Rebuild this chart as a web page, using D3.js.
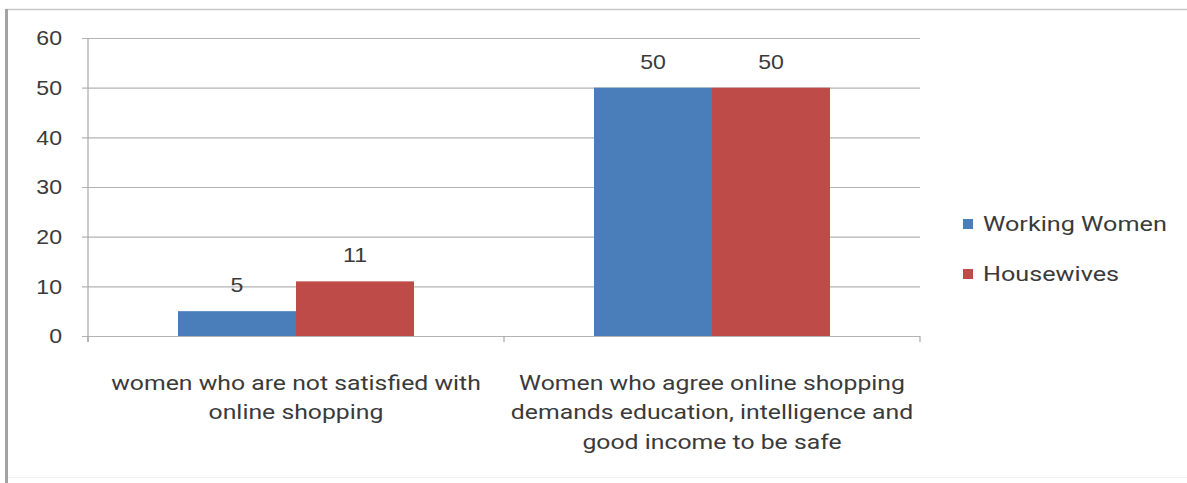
<!DOCTYPE html>
<html>
<head>
<meta charset="utf-8">
<script src="https://cdn.jsdelivr.net/npm/d3@7"></script>
<style>
  html, body { margin: 0; padding: 0; background: #fff; }
  svg { display: block; }
  text { font-family: "Roboto", "Liberation Sans", sans-serif; fill: #3a3a3a; }
  .num { font-family: "Liberation Sans", sans-serif; }
</style>
</head>
<body>
<svg id="chart" width="1187" height="483"></svg>
<script>
// Survey responses by group
const categories = [
  ["women who are not satisfied with", "online shopping"],
  ["Women who agree online shopping", "demands education, intelligence and", "good income to be safe"]
];
const seriesNames = ["Working Women", "Housewives"];
const workingWomen = [5, 50];
const housewives = [11, 50];
const yTicks = [0, 10, 20, 30, 40, 50, 60];
const colors = ["#4a7ebb", "#be4b48"];

const svg = d3.select("#chart");
const W = 1187, H = 483;

// widen glyphs slightly for a broader text face
function widen(sel, k) {
  sel.each(function() {
    const len = this.getComputedTextLength();
    d3.select(this).attr("textLength", len * k).attr("lengthAdjust", "spacingAndGlyphs");
  });
}

// outer frame
svg.append("rect").attr("x", 0).attr("y", 0).attr("width", W).attr("height", H).attr("fill", "#fff");
svg.append("line").attr("x1", 6).attr("x2", W).attr("y1", 9.5).attr("y2", 9.5)
  .attr("stroke", "#c8c8c8").attr("stroke-width", 1.5);
svg.append("line").attr("x1", 6.5).attr("x2", 6.5).attr("y1", 9).attr("y2", H)
  .attr("stroke", "#a3a3a3").attr("stroke-width", 3);
svg.append("line").attr("x1", 8).attr("x2", W).attr("y1", 477.5).attr("y2", 477.5)
  .attr("stroke", "#f0f0f0").attr("stroke-width", 1);

const plot = { left: 88, right: 920, top: 38, bottom: 336 };

const y = d3.scaleLinear().domain([0, 60]).range([plot.bottom, plot.top]);
const x0 = d3.scaleBand().domain(d3.range(categories.length))
  .range([plot.left, plot.right]).paddingInner(0.4327).paddingOuter(0.4327 / 2);
const x1 = d3.scaleBand().domain(d3.range(seriesNames.length))
  .range([0, x0.bandwidth()]).padding(0);

// horizontal gridlines with ticks to the left
const yAxis = d3.axisLeft(y).tickValues(yTicks).tickSize(-(plot.right - plot.left)).tickPadding(26);
const gy = svg.append("g").attr("transform", `translate(${plot.left},0)`).call(yAxis);
gy.select(".domain").remove();
gy.selectAll(".tick line").attr("stroke", "#b4b4b4").attr("stroke-width", 1.2).attr("x1", -6);
gy.selectAll(".tick text").attr("class", "num").attr("font-size", 21).attr("fill", "#3a3a3a")
  .attr("font-family", null);
widen(gy.selectAll(".tick text"), 1.1);

// vertical axis line
svg.append("line").attr("x1", plot.left).attr("x2", plot.left)
  .attr("y1", plot.top).attr("y2", plot.bottom + 6)
  .attr("stroke", "#a8a8a8").attr("stroke-width", 1.2);

// category separators on the baseline
const sepX = [plot.left, (x0(0) + x0.bandwidth() + x0(1)) / 2, plot.right];
svg.selectAll("line.sep").data(sepX).enter().append("line")
  .attr("x1", d => d).attr("x2", d => d)
  .attr("y1", plot.bottom).attr("y2", plot.bottom + 6)
  .attr("stroke", "#a8a8a8").attr("stroke-width", 1.2);

// bars
const series = [workingWomen, housewives];
const groups = svg.selectAll("g.cat").data(categories).enter().append("g")
  .attr("transform", (d, i) => `translate(${x0(i)},0)`);

groups.each(function(d, ci) {
  const g = d3.select(this);
  series.forEach((vals, si) => {
    const v = vals[ci];
    g.append("rect")
      .attr("x", x1(si)).attr("width", x1.bandwidth())
      .attr("y", y(v)).attr("height", y(0) - y(v))
      .attr("fill", colors[si]);
    const t = g.append("text").attr("class", "num")
      .attr("x", x1(si) + x1.bandwidth() / 2).attr("y", y(v) - 19)
      .attr("text-anchor", "middle").attr("font-size", 21)
      .text(v);
    widen(t, 1.1);
  });
  // category label lines
  d.forEach((line, li) => {
    const t = g.append("text")
      .attr("x", x0.bandwidth() / 2).attr("y", 389.5 + li * 29.5)
      .attr("text-anchor", "middle").attr("font-size", 21)
      .text(line);
    widen(t, 1.18);
  });
});

// legend
const legend = svg.append("g").attr("transform", "translate(963,219)");
seriesNames.forEach((name, i) => {
  const row = legend.append("g").attr("transform", `translate(0,${i * 50})`);
  row.append("rect").attr("width", 10).attr("height", 10).attr("fill", colors[i]);
  const t = row.append("text").attr("x", 20).attr("y", 12).attr("font-size", 21).text(name);
  widen(t, 1.2);
});
</script>
</body>
</html>
